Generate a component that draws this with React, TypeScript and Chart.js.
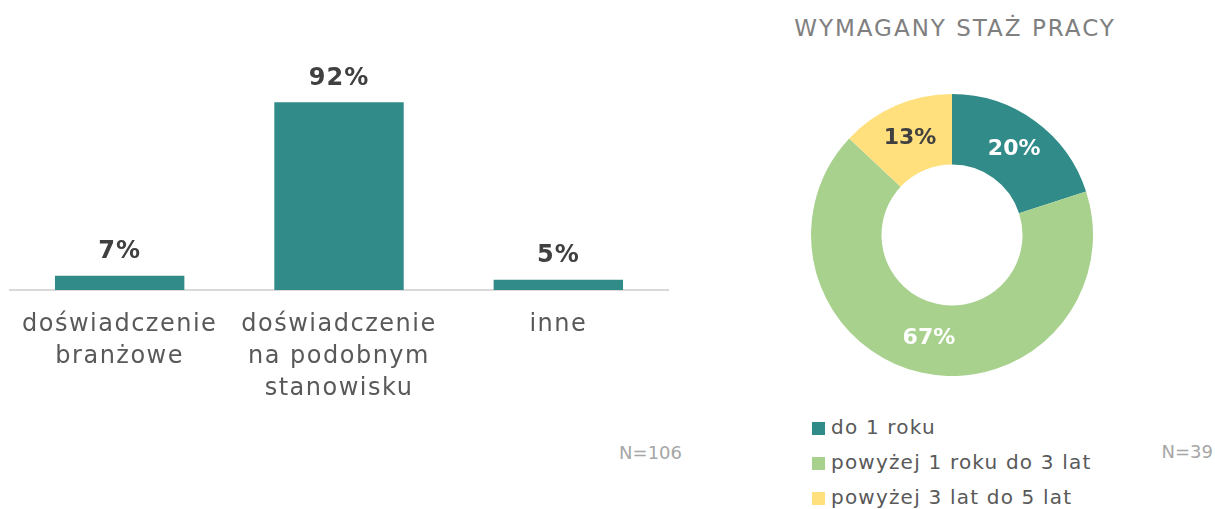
import React, { useEffect, useRef } from "react";
import { Chart, registerables } from "chart.js";
Chart.register(...registerables);

// ---- Data ----
const barCategories: string[][] = [
  ["doświadczenie", "branżowe"],
  ["doświadczenie", "na podobnym", "stanowisku"],
  ["inne"],
];
const barValues: number[] = [7, 92, 5];
const barN = "N=106";

const donutTitle = "WYMAGANY STAŻ PRACY";
const donutLabels: string[] = ["do 1 roku", "powyżej 1 roku do 3 lat", "powyżej 3 lat do 5 lat"];
const donutValues: number[] = [20, 67, 13];
const donutN = "N=39";

// ---- Styles ----
const FONT = "'DejaVu Sans', sans-serif";
const BAR_COLOR = "#318B88";
const donutColors = ["#318B88", "#A9D18E", "#FFE07D"];
const donutLabelColors = ["#FFFFFF", "#FFFFFF", "#404040"];

const letterSpacingPlugin = {
  id: "letterSpacing",
  beforeDraw(chart: any) {
    (chart.ctx as any).letterSpacing = "1.5px";
  },
};

const barLabelPlugin = {
  id: "barLabels",
  afterDatasetsDraw(chart: any) {
    const ctx = chart.ctx;
    const meta = chart.getDatasetMeta(0);
    ctx.save();
    (ctx as any).letterSpacing = "1px";
    ctx.font = `bold 24px ${FONT}`;
    ctx.fillStyle = "#404040";
    ctx.textAlign = "center";
    ctx.textBaseline = "middle";
    meta.data.forEach((el: any, i: number) => {
      const v = chart.data.datasets[0].data[i];
      ctx.fillText(`${v}%`, el.x, el.y - 24);
    });
    ctx.restore();
  },
};

const donutLabelPlugin = {
  id: "donutLabels",
  afterDatasetsDraw(chart: any) {
    const ctx = chart.ctx;
    const meta = chart.getDatasetMeta(0);
    ctx.save();
    ctx.font = `bold 22px ${FONT}`;
    ctx.textAlign = "center";
    ctx.textBaseline = "middle";
    meta.data.forEach((el: any, i: number) => {
      const v = chart.data.datasets[0].data[i];
      const p = el.getCenterPoint();
      ctx.fillStyle = donutLabelColors[i];
      ctx.fillText(`${v}%`, p.x, p.y);
    });
    ctx.restore();
  },
};

export default function App() {
  const barRef = useRef<HTMLCanvasElement>(null);
  const donutRef = useRef<HTMLCanvasElement>(null);

  useEffect(() => {
    const bar = new Chart(barRef.current!, {
      type: "bar",
      data: {
        labels: barCategories,
        datasets: [
          {
            data: barValues,
            backgroundColor: BAR_COLOR,
            barPercentage: 0.59,
            categoryPercentage: 1,
          },
        ],
      },
      options: {
        animation: false,
        responsive: false,
        maintainAspectRatio: false,
        layout: { padding: { left: 10, right: 32, top: 86, bottom: 0 } },
        plugins: { legend: { display: false }, tooltip: { enabled: false } },
        scales: {
          x: {
            grid: { display: false, drawTicks: false },
            border: { display: true, color: "#D9D9D9", width: 2 },
            ticks: {
              color: "#595959",
              font: { family: FONT, size: 24, lineHeight: 32 / 24 },
              padding: 19,
              maxRotation: 0,
              autoSkip: false,
            },
            afterFit: (s: any) => {
              s.height = 130;
            },
          },
          y: { display: false, min: 0, max: 100 },
        },
      },
      plugins: [letterSpacingPlugin, barLabelPlugin],
    } as any);

    const donut = new Chart(donutRef.current!, {
      type: "doughnut",
      data: {
        labels: donutLabels,
        datasets: [
          {
            data: donutValues,
            backgroundColor: donutColors,
            borderWidth: 0,
          },
        ],
      },
      options: {
        animation: false,
        responsive: false,
        maintainAspectRatio: false,
        cutout: "50%",
        layout: { padding: 0 },
        plugins: { legend: { display: false }, tooltip: { enabled: false } },
      },
      plugins: [donutLabelPlugin],
    } as any);

    return () => {
      bar.destroy();
      donut.destroy();
    };
  }, []);

  return (
    <div
      style={{
        position: "absolute",
        left: 0,
        top: 0,
        width: 1215,
        height: 509,
        background: "#FFFFFF",
        fontFamily: FONT,
        overflow: "hidden",
      }}
    >
      <canvas
        ref={barRef}
        width={700}
        height={420}
        style={{ position: "absolute", left: 0, top: 0, width: 700, height: 420 }}
      />
      <div
        style={{
          position: "absolute",
          left: 560,
          top: 440,
          width: 122,
          textAlign: "right",
          fontSize: 18,
          color: "#A6A6A6",
          lineHeight: "26px",
        }}
      >
        {barN}
      </div>

      <div
        style={{
          position: "absolute",
          left: 754,
          top: 13,
          width: 402,
          textAlign: "center",
          fontSize: 23,
          color: "#7F7F7F",
          lineHeight: "30px",
          letterSpacing: 2,
        }}
      >
        {donutTitle}
      </div>
      <canvas
        ref={donutRef}
        width={282}
        height={282}
        style={{ position: "absolute", left: 811, top: 94, width: 282, height: 282 }}
      />
      {donutLabels.map((l, i) => (
        <div
          key={l}
          style={{
            position: "absolute",
            left: 812,
            top: 412 + i * 35,
            height: 30,
            display: "flex",
            alignItems: "center",
            fontSize: 20,
            letterSpacing: 1.2,
            color: "#595959",
            whiteSpace: "nowrap",
          }}
        >
          <span
            style={{
              display: "inline-block",
              width: 13,
              height: 13,
              background: donutColors[i],
              marginRight: 6,
              marginTop: 3,
            }}
          />
          <span>{l}</span>
        </div>
      ))}
      <div
        style={{
          position: "absolute",
          left: 1100,
          top: 439,
          width: 113,
          textAlign: "right",
          fontSize: 18,
          color: "#A6A6A6",
          lineHeight: "26px",
        }}
      >
        {donutN}
      </div>
    </div>
  );
}
